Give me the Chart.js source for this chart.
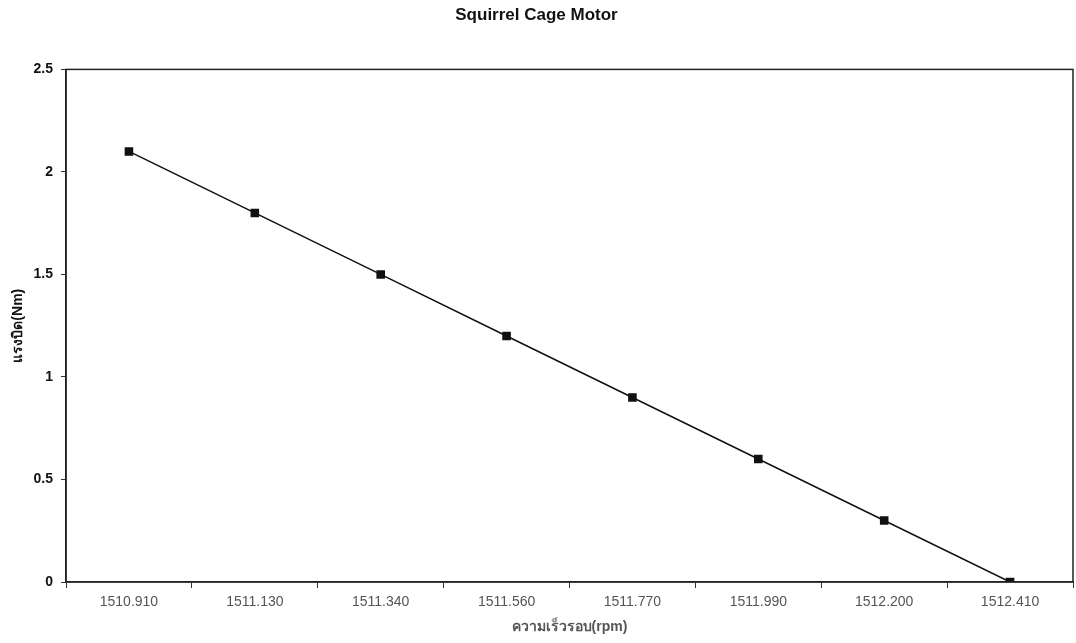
<!DOCTYPE html>
<html>
<head>
<meta charset="utf-8">
<script src="https://cdn.jsdelivr.net/npm/chart.js@4/dist/chart.umd.min.js"></script>
<style>
  html, body { margin: 0; padding: 0; background: #fff; }
  #wrap { width: 1076px; height: 643px; }
</style>
</head>
<body>
<div id="wrap"><canvas id="motorChart" width="1076" height="643"></canvas></div>
<script>
// speed (rpm) categories and torque (Nm) values
const speedLabels = ["1510.910", "1511.130", "1511.340", "1511.560", "1511.770", "1511.990", "1512.200", "1512.410"];
const torqueValues = [2.1, 1.8, 1.5, 1.2, 0.9, 0.6, 0.3, 0];

const FONT = "'Liberation Sans', Arial, 'Noto Sans', sans-serif";

// draw a box around the plot area
const boxPlugin = {
  id: 'plotBox',
  afterDraw(chart) {
    const { ctx, chartArea: a } = chart;
    ctx.save();
    ctx.strokeStyle = '#222';
    ctx.lineWidth = 1.5;
    ctx.strokeRect(a.left, a.top, a.right - a.left, a.bottom - a.top);
    ctx.restore();
  }
};

const ctx = document.getElementById("motorChart").getContext("2d");
new Chart(ctx, {
  type: 'line',
  data: {
    labels: speedLabels,
    datasets: [{
      label: 'Torque',
      data: torqueValues,
      borderColor: '#111',
      backgroundColor: '#111',
      borderWidth: 1.5,
      pointStyle: 'rect',
      pointRadius: 5,
      pointHoverRadius: 5,
      tension: 0
    }]
  },
  options: {
    responsive: false,
    animation: false,
    layout: { autoPadding: false, padding: { left: 0, right: 3, top: 0, bottom: 7 } },
    plugins: {
      legend: { display: false },
      tooltip: { enabled: false },
      title: {
        display: true,
        text: 'Squirrel Cage Motor',
        color: '#111',
        font: { family: FONT, size: 17, weight: 'bold' },
        padding: { top: 5, bottom: 44 }
      }
    },
    scales: {
      x: {
        offset: true,
        grid: { display: true, offset: true, drawOnChartArea: false, tickLength: 6, color: '#333' },
        border: { display: true, color: '#333', width: 1.5 },
        ticks: { color: '#555', font: { family: FONT, size: 14 }, padding: 6, maxRotation: 0 },
        title: {
          display: true,
          text: 'ความเร็วรอบ(rpm)',
          color: '#555',
          font: { family: FONT, size: 14, weight: 'bold' },
          padding: { top: 0, bottom: 0 }
        },
        afterFit(axis) { axis.height = 54; }
      },
      y: {
        min: 0,
        max: 2.5,
        grid: { display: true, drawOnChartArea: false, tickLength: 5, color: '#333' },
        border: { display: true, color: '#222', width: 1.5 },
        ticks: {
          stepSize: 0.5,
          color: '#111',
          font: { family: FONT, size: 14, weight: 'bold' },
          padding: 8,
          callback: v => String(v)
        },
        title: {
          display: true,
          text: 'แรงบิด(Nm)',
          color: '#111',
          font: { family: FONT, size: 14, weight: 'bold' },
          padding: { top: 10, bottom: 6 }
        },
        afterFit(axis) { axis.width = 66; }
      }
    }
  },
  plugins: [boxPlugin]
});
</script>
</body>
</html>
